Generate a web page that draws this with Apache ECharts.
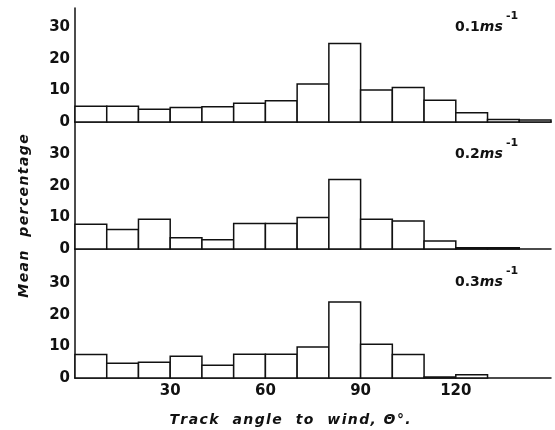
<!DOCTYPE html>
<html>
<head>
<meta charset="utf-8">
<script src="https://cdn.jsdelivr.net/npm/echarts@6/dist/echarts.min.js"></script>
<style>html,body{margin:0;padding:0;background:#fff}#c{width:555px;height:430px}</style>
</head>
<body>
<div id="c"></div>
<script>
// Bins of track angle (degrees), 10-degree wide, 0..150
var binStarts = [0, 10, 20, 30, 40, 50, 60, 70, 80, 90, 100, 110, 120, 130, 140];
var binWidth = 10;
var xTickLabels = [30, 60, 90, 120];
var yTickLabels = [0, 10, 20, 30];
// Mean percentage per bin for each wind speed
var speed01 = [5.0, 5.0, 4.0, 4.6, 4.8, 5.9, 6.7, 12.0, 24.8, 10.1, 10.9, 6.9, 2.9, 0.8, 0.6];
var speed02 = [7.8, 6.2, 9.4, 3.6, 2.9, 8.1, 8.1, 10.0, 22.0, 9.4, 8.9, 2.5, 0.4, 0.4, 0];
var speed03 = [7.4, 4.7, 5.0, 6.9, 4.0, 7.5, 7.5, 9.8, 24.0, 10.7, 7.4, 0.3, 1.0, 0, 0];
var speedLabels = ['0.1', '0.2', '0.3'];
var yTitle = 'Mean  percentage';
var xTitle = 'Track  angle  to  wind, \u0398\u00b0.';

function spaced(t) { return t.split('').join('\u200a'); }

var chart = echarts.init(document.getElementById('c'));
var FONT = 'DejaVu Sans';
var panels = [
  {top: 8, height: 114, max: 36, data: speed01},
  {top: 122, height: 127, max: 40.2, data: speed02},
  {top: 249, height: 129, max: 40.8, data: speed03}
];

function renderBin(params, api) {
  var v = api.value(2);
  if (!(v > 0)) return null;
  var p0 = api.coord([api.value(0), 0]);
  var p1 = api.coord([api.value(1), v]);
  return {
    type: 'rect',
    shape: {x: p0[0], y: p1[1], width: p1[0] - p0[0], height: p0[1] - p1[1]},
    style: {fill: '#fff', stroke: '#111', lineWidth: 1.5}
  };
}

var grids = [], xAxes = [], yAxes = [], series = [];
panels.forEach(function (p, i) {
  grids.push({left: 75, width: 476, top: p.top, height: p.height});
  xAxes.push({
    type: 'value', gridIndex: i, min: 0, max: 150, interval: 30,
    axisLine: {show: true, onZero: false, lineStyle: {color: '#111', width: 1.5}},
    axisTick: {show: false}, splitLine: {show: false},
    axisLabel: {
      show: i === 2,
      color: '#111', fontFamily: FONT, fontWeight: 'bold', fontSize: 15, margin: 6,
      formatter: function (v) { return xTickLabels.indexOf(v) >= 0 ? String(v) : ''; }
    }
  });
  yAxes.push({
    type: 'value', gridIndex: i, min: 0, max: p.max, interval: 10,
    axisLine: {show: true, lineStyle: {color: '#111', width: 1.5}},
    axisTick: {show: false}, splitLine: {show: false},
    axisLabel: {
      color: '#111', fontFamily: FONT, fontWeight: 'bold', fontSize: 15, margin: 5,
      formatter: function (v) { return yTickLabels.indexOf(v) >= 0 ? String(v) : ''; }
    }
  });
  series.push({
    type: 'custom', xAxisIndex: i, yAxisIndex: i, silent: true,
    renderItem: renderBin,
    encode: {x: [0, 1], y: 2},
    data: binStarts.map(function (b, k) { return [b, b + binWidth, p.data[k]]; }),
    z: 1
  });
});

var graphics = [];
var labelY = [28, 155, 283];
speedLabels.forEach(function (s, i) {
  graphics.push({
    type: 'text', left: 455, top: labelY[i] - 8,
    style: {
      text: '{n|' + s + '}{i|ms}',
      rich: {
        n: {fontFamily: FONT, fontWeight: 'bold', fontSize: 14, fill: '#111'},
        i: {fontFamily: FONT, fontWeight: 'bold', fontStyle: 'italic', fontSize: 14, fill: '#111'}
      }
    }
  });
  graphics.push({
    type: 'text', left: 506, top: labelY[i] - 17,
    style: {text: '-1', fontFamily: FONT, fontWeight: 'bold', fontSize: 11, fill: '#111'}
  });
});
graphics.push({
  type: 'text', x: 24, y: 216, rotation: Math.PI / 2,
  style: {
    text: spaced(yTitle), fontFamily: FONT, fontWeight: 'bold', fontStyle: 'italic',
    fontSize: 14, fill: '#111', align: 'center', verticalAlign: 'middle'
  }
});
graphics.push({
  type: 'text', x: 290, y: 420,
  style: {
    text: spaced(xTitle), fontFamily: FONT, fontWeight: 'bold', fontStyle: 'italic',
    fontSize: 14, fill: '#111', align: 'center', verticalAlign: 'middle'
  }
});

chart.setOption({
  animation: false,
  backgroundColor: '#fff',
  grid: grids, xAxis: xAxes, yAxis: yAxes, series: series, graphic: graphics
});
</script>
</body>
</html>
